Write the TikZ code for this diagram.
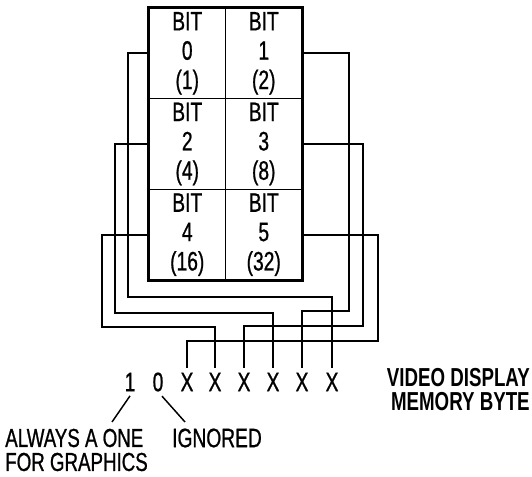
\documentclass[tikz,border=0pt]{standalone}
\usepackage{fontspec}
\setmainfont[FakeStretch=0.72, FakeBold=0.8, BoldFeatures={FakeBold=0}]{Liberation Sans}
\begin{document}
\begin{tikzpicture}[x=0.75pt, y=-0.75pt, font=\fontsize{20}{22}\selectfont,
		cell/.style={draw, line width=1.1pt, minimum width=57.4pt, minimum height=68pt, inner sep=0pt, align=center},
		wire/.style={line width=1.5pt},
		pointer/.style={line width=1.1pt}]
	\useasboundingbox (0,0) rectangle (532,477);
	% the six bits of the byte
	\node[cell] (b0) at (187.25,53.3) {BIT\\0\\(1)};
	\node[cell] (b1) at (263.75,53.3) {BIT\\1\\(2)};
	\node[cell] (b2) at (187.25,144) {BIT\\2\\(4)};
	\node[cell] (b3) at (263.75,144) {BIT\\3\\(8)};
	\node[cell] (b4) at (187.25,234.7) {BIT\\4\\(16)};
	\node[cell] (b5) at (263.75,234.7) {BIT\\5\\(32)};
	\draw[line width=2.3pt] (b0.north west) rectangle (b5.south east);
	% memory byte
	\node (one) at (130,382) {1};
	\node (zero) at (158,382) {0};
	\foreach \n/\x in {5/187, 4/215, 3/244, 2/273, 1/302, 0/332}
		\node (x\n) at (\x,382) {X};
	\draw[wire] (b0.west) -| (128,297) -| (x0.north);
	\draw[wire] (b2.west) -| (115,313) -| (x2.north);
	\draw[wire] (b4.west) -| (102,327) -| (x4.north);
	\draw[wire] (b1.east) -| (349,311) -| (x1.north);
	\draw[wire] (b3.east) -| (363,326) -| (x3.north);
	\draw[wire] (b5.east) -| (378,341) -| (x5.north);
	\node[anchor=east, align=right, inner sep=0pt, font=\fontsize{19.5}{18}\selectfont\bfseries] (vdm) at (530,390) {VIDEO DISPLAY\\MEMORY BYTE};
	% notes
	\node[anchor=west, align=left, inner sep=0pt, font=\fontsize{19.5}{18}\selectfont] (always) at (5,450) {ALWAYS A ONE\\FOR GRAPHICS};
	\node[inner sep=0pt] (ignored) at (217,438) {IGNORED};
	\coordinate (a1) at (112,422);
	\coordinate (a0) at (185,422);
	\draw[pointer] (one.south) -- (a1);
	\draw[pointer] ([xshift=3pt]zero.south) -- (a0);
\end{tikzpicture}
\end{document}
